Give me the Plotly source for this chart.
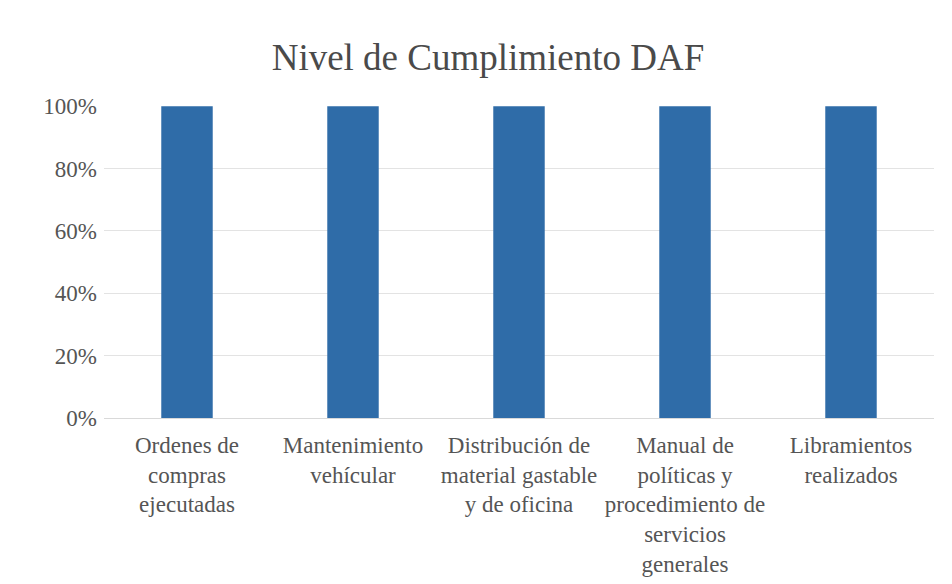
import plotly.graph_objects as go

categories = [
    "Ordenes de<br>compras<br>ejecutadas",
    "Mantenimiento<br>vehícular",
    "Distribución de<br>material gastable<br>y de oficina",
    "Manual de<br>políticas y<br>procedimiento de<br>servicios<br>generales",
    "Libramientos<br>realizados",
]
values = [1.0, 1.0, 1.0, 1.0, 1.0]
y_ticks = [0, 0.2, 0.4, 0.6, 0.8, 1.0]

OFF = 8  # page body margin offset

fig = go.Figure(go.Bar(x=categories, y=values, marker_color="#2F6CA8",
                       marker_line_width=0))

fig.update_layout(
    width=952, height=584,
    margin=dict(l=104 - OFF, r=18 + OFF, t=106 - OFF, b=166 + OFF, autoexpand=False),
    paper_bgcolor="white", plot_bgcolor="white",
    bargap=0.69,
    showlegend=False,
    title=dict(text="Nivel de Cumplimiento DAF", x=(488 - OFF) / 952, xanchor="center",
               y=1 - (57 - OFF) / 584, yref="container", yanchor="middle",
               font=dict(family="Liberation Serif", size=37, color="#4a4a4a")),
    font=dict(family="Liberation Serif", size=23, color="#555555"),
)
fig.update_xaxes(showline=True, linecolor="#d9d9d9", linewidth=1, ticks="",
                 tickangle=0, ticklabelstandoff=6,
                 tickfont=dict(family="Liberation Serif", size=23, color="#555555"))
fig.update_yaxes(range=[0, 1.0005], tickvals=y_ticks, tickformat=".0%",
                 showgrid=True, gridcolor="#e3e3e3", gridwidth=1,
                 zeroline=False, ticks="", ticklabelstandoff=6,
                 tickfont=dict(family="Liberation Serif", size=23, color="#555555"))

fig.write_html("out.html")
